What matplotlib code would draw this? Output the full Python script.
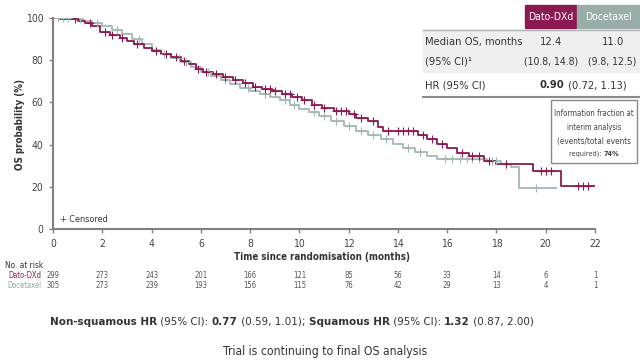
import matplotlib
matplotlib.use("Agg")
import matplotlib.pyplot as plt
from matplotlib import font_manager as fm
from matplotlib.patches import Rectangle
from matplotlib.lines import Line2D
from matplotlib.transforms import blended_transform_factory
import numpy as np

# prefer a narrow face, like the Calibri-style text of the slide
narrow = [f.name for f in fm.fontManager.ttflist
          if f.stretch == 'condensed' or 'Narrow' in f.name or 'Condensed' in f.name]
if 'Liberation Sans Narrow' in narrow:
    plt.rcParams['font.family'] = ['Liberation Sans Narrow', 'DejaVu Sans']
elif narrow:
    plt.rcParams['font.family'] = [narrow[0], 'DejaVu Sans']
    plt.rcParams['font.stretch'] = 'condensed'
else:
    plt.rcParams['font.family'] = ['Lato', 'DejaVu Sans']

# KM step data (months, OS %)
dato_t = [0, 0.3, 0.7, 1.0, 1.3, 1.6, 1.9, 2.3, 2.7, 3.0, 3.3, 3.7, 4.0, 4.4, 4.8,
          5.2, 5.5, 5.8, 6.1, 6.5, 6.9, 7.3, 7.7, 8.1, 8.5, 8.9, 9.3, 9.7, 10.1,
          10.5, 10.9, 11.4, 12.0, 12.3, 12.8, 13.2, 13.4, 14.8, 15.2, 15.6, 16.0,
          16.4, 16.9, 17.5, 18.0, 19.5, 20.6, 22.0]
dato_s = [100, 99.7, 99.3, 98.7, 97.7, 96, 93.5, 92, 90.5, 89, 87.5, 86, 84.5, 83, 81.5,
          79.5, 78, 76, 74.5, 73.5, 72, 70.5, 69, 67.5, 66.5, 65.5, 64, 62.5, 61,
          59, 57.5, 56, 54.5, 52.5, 51, 48.5, 46.5, 44.5, 42.5, 40.5, 38.5,
          36, 34.5, 32, 30.6, 27.4, 20.4, 20.4]

doce_t = [0, 0.3, 0.8, 1.2, 1.6, 2.0, 2.4, 2.8, 3.2, 3.6, 4.0, 4.4, 4.8, 5.2, 5.6,
          6.0, 6.4, 6.8, 7.2, 7.6, 8.0, 8.4, 8.8, 9.2, 9.6, 10.0, 10.4, 10.8, 11.3,
          11.8, 12.3, 12.8, 13.3, 13.8, 14.2, 14.7, 15.2, 15.6, 17.6, 18.2, 18.6,
          18.9, 20.4]
doce_s = [100, 99.8, 99.3, 98.5, 97.5, 96, 94.5, 92.5, 90, 87.5, 85, 83, 81, 79, 77,
          74.5, 72.5, 70.5, 68.5, 67, 65.5, 64, 62.5, 61, 59, 57, 55.5, 53.5, 51,
          49, 46.5, 44.5, 42.5, 40.5, 38.5, 36.5, 34.5, 33, 32.3, 31, 29.5,
          19.6, 19.6]

dato_cens = [0.9, 1.5, 2.1, 2.4, 2.8, 3.4, 4.2, 4.6, 5.0, 5.3, 5.9, 6.2, 6.6, 7.0, 7.4,
             7.8, 8.2, 8.6, 8.8, 9.0, 9.4, 9.6, 9.9, 10.2, 10.6, 11.0, 11.5, 11.7, 11.9,
             12.2, 12.5, 13.0, 13.6, 14.0, 14.2, 14.4, 14.6, 15.0, 15.4, 15.8, 16.6,
             17.0, 17.3, 17.7, 18.4, 19.8, 20.0, 20.2, 21.3, 21.5, 21.7]
doce_cens = [0.2, 0.4, 0.6, 1.1, 1.8, 2.6, 3.5, 4.5, 5.1, 5.4, 6.3, 7.0, 7.9, 8.6,
             9.4, 9.8, 10.6, 11.0, 11.5, 12.0, 12.5, 13.0, 13.5, 14.4, 14.9, 15.9,
             16.2, 16.5, 16.8, 17.0, 17.3, 17.8, 18.0, 18.4, 19.6]

x_ticks = [0, 2, 4, 6, 8, 10, 12, 14, 16, 18, 20, 22]
y_ticks = [0, 20, 40, 60, 80, 100]
risk_dato = [299, 273, 243, 201, 166, 121, 85, 56, 33, 14, 6, 1]
risk_doce = [305, 273, 239, 193, 156, 115, 76, 42, 29, 13, 4, 1]

PURPLE = '#8c1a52'
GREY = '#a3b8b3'
TXT = '#333333'
W, H = 640, 361


def fx(x):
    return x / W


def fy(y):
    return 1 - y / H


def surv_at(times, surv, t):
    idx = np.searchsorted(times, t, side='right') - 1
    return np.array(surv)[idx]


fig = plt.figure(figsize=(6.4, 3.61), dpi=100)
renderer = fig.canvas.get_renderer()


def put(parts, x, y, width=None, ha='center', color=TXT, size=8):
    # text made of (string, weight) pieces; if width is given, sized to span it
    objs = [fig.text(0, fy(y), s, fontsize=size, fontweight=w, color=color, va='center')
            for s, w in parts]
    if width:
        total = sum(o.get_window_extent(renderer).width for o in objs)
        size = size * width / total
        for o in objs:
            o.set_fontsize(size)
    widths = [o.get_window_extent(renderer).width for o in objs]
    x0 = {'left': x, 'center': x - sum(widths) / 2, 'right': x - sum(widths)}[ha]
    for o, wd in zip(objs, widths):
        o.set_x(fx(x0))
        x0 += wd


ax = fig.add_axes([fx(53), fy(229), fx(595) - fx(53), fy(18) - fy(229)])

ax.step(doce_t, doce_s, where='post', color=GREY, lw=1.3)
ax.step(dato_t, dato_s, where='post', color=PURPLE, lw=1.3)
ax.plot(doce_cens, surv_at(doce_t, doce_s, doce_cens), '+', color=GREY, ms=6, mew=0.8)
ax.plot(dato_cens, surv_at(dato_t, dato_s, dato_cens), '+', color=PURPLE, ms=6, mew=0.8)

ax.set_xlim(0, 22)
ax.set_ylim(0, 100)
ax.set_xticks(x_ticks)
ax.set_yticks(y_ticks)
for s in ['top', 'right']:
    ax.spines[s].set_visible(False)
for s in ['left', 'bottom']:
    ax.spines[s].set_color('#808080')
    ax.spines[s].set_linewidth(1.5)
ax.tick_params(direction='out', length=3, width=1, color='#808080',
               labelsize=7.5, labelcolor='#444444', pad=4)

put([('+ Censored', 'normal')], 60, 220, ha='left', size=6.5)
fig.text(fx(20), fy(124), 'OS probability (%)', rotation=90, ha='center', va='center',
         fontsize=7, fontweight='bold', color=TXT)
put([('Time since randomisation (months)', 'bold')], 322, 257, size=7)

# number at risk
tr = blended_transform_factory(ax.transData, fig.transFigure)
put([('No. at risk', 'normal')], 5, 266, ha='left', size=6)
put([('Dato-DXd', 'normal')], 8, 276, ha='left', color=PURPLE, size=5.5)
put([('Docetaxel', 'normal')], 7, 285, ha='left', color='#8fa6a0', size=5.5)
for xt, a, b in zip(x_ticks, risk_dato, risk_doce):
    ax.text(xt, fy(276), str(a), transform=tr, ha='center', va='center', fontsize=5.5, color='#555555')
    ax.text(xt, fy(285), str(b), transform=tr, ha='center', va='center', fontsize=5.5, color='#555555')

# table
fig.patches.append(Rectangle((fx(525), fy(28)), fx(51), 23 / H, color=PURPLE, transform=fig.transFigure))
fig.patches.append(Rectangle((fx(577), fy(28)), fx(63), 23 / H, color='#9aaea9', transform=fig.transFigure))
fig.patches.append(Rectangle((fx(423), fy(72)), fx(217), 42 / H, color='#efefef', transform=fig.transFigure))
fig.lines.append(Line2D([fx(423), 1], [fy(30), fy(30)], color='#b0b0b0', lw=1, transform=fig.transFigure))
fig.lines.append(Line2D([fx(423), 1], [fy(97), fy(97)], color='#8a8a8a', lw=1.5, transform=fig.transFigure))
put([('Dato-DXd', 'normal')], 551, 17, color='white', size=7.5)
put([('Docetaxel', 'normal')], 608, 17, color='white', size=7.5)
put([('Median OS, months', 'normal')], 425, 42, ha='left', size=8)
put([('(95% CI)\u00b9', 'normal')], 425, 61, ha='left', size=8)
put([('12.4', 'normal')], 551, 42, size=8)
put([('(10.8, 14.8)', 'normal')], 551, 61, size=7.5)
put([('11.0', 'normal')], 613, 42, size=8)
put([('(9.8, 12.5)', 'normal')], 612, 61, size=7.5)
put([('HR (95% CI)', 'normal')], 425, 85, ha='left', size=8)
put([('0.90', 'bold'), (' (0.72, 1.13)', 'normal')], 583, 85, size=8)

# info box
fig.patches.append(Rectangle((fx(551), fy(163)), fx(86), 63 / H, fill=False, ec='#8a8a8a',
                             lw=1, transform=fig.transFigure))
put([('Information fraction at', 'normal')], 594, 113, 80, color='#444444', size=6)
put([('interim analysis', 'normal')], 594, 127, 55, color='#444444', size=6)
put([('(events/total events', 'normal')], 594, 141, 74, color='#444444', size=6)
put([('required): ', 'normal'), ('74%', 'bold')], 594, 154, 50, color='#444444', size=6)

# footnotes
put([('Non-squamous HR', 'bold'), (' (95% CI): ', 'normal'), ('0.77', 'bold'),
     (' (0.59, 1.01); ', 'normal'), ('Squamous HR', 'bold'), (' (95% CI): ', 'normal'),
     ('1.32', 'bold'), (' (0.87, 2.00)', 'normal')], 292, 322, 480)
put([('Trial is continuing to final OS analysis', 'normal')], 325, 351, 205)

fig.savefig('out.png', dpi=100)
